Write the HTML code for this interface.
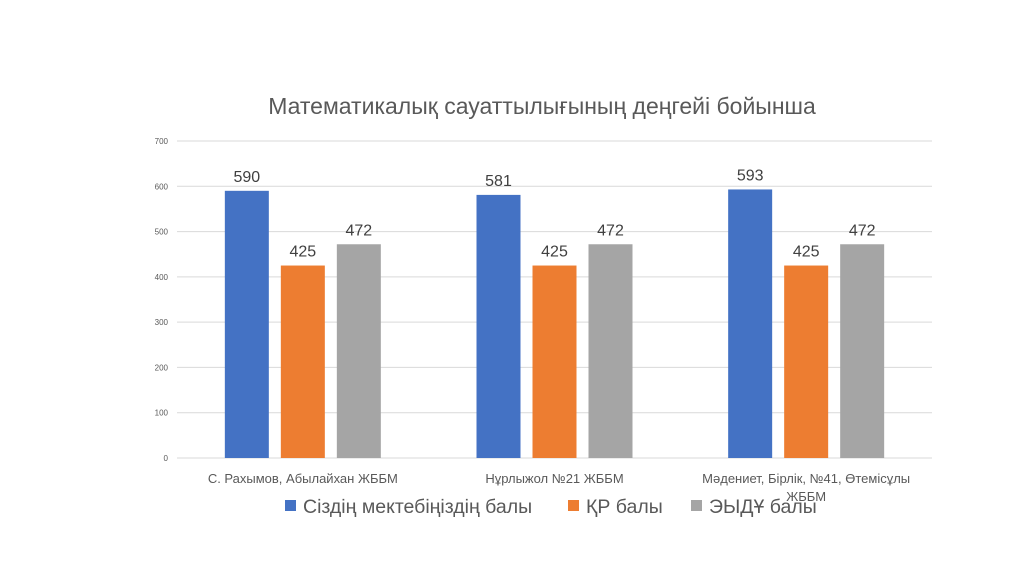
<!DOCTYPE html>
<html><head><meta charset="utf-8"><style>
body{margin:0;background:#fff;width:1024px;height:574px;overflow:hidden;font-family:"Liberation Sans","DejaVu Sans",sans-serif;}
svg text{font-family:"Liberation Sans","DejaVu Sans",sans-serif;}
</style></head><body>
<svg id="chart" width="1024" height="574" xmlns="http://www.w3.org/2000/svg">
<text x="542" y="114" text-anchor="middle" font-size="23" fill="#595959">Математикалық сауаттылығының деңгейі бойынша</text>
<g id="grid"></g><g id="bars"></g><g id="labels"></g>
<g font-size="19.5" fill="#595959">
<rect x="285" y="500" width="11" height="11" fill="#4472C4"/>
<text x="303" y="513">Сіздің мектебіңіздің балы</text>
<rect x="568" y="500" width="11" height="11" fill="#ED7D31"/>
<text x="586" y="513">ҚР балы</text>
<rect x="691" y="500" width="11" height="11" fill="#A5A5A5"/>
<text x="709" y="513">ЭЫДҰ балы</text>
</g>
</svg>
<script>
const categories=[["С. Рахымов, Абылайхан ЖББМ"],["Нұрлыжол №21 ЖББМ"],["Мәдениет, Бірлік, №41, Өтемісұлы","ЖББМ"]];
const schoolScores=[590,581,593];
const krScores=[425,425,425];
const oecdScores=[472,472,472];
const yTicks=[0,100,200,300,400,500,600,700];
const series=[{name:"school",vals:schoolScores,c:"#4472C4"},{name:"kr",vals:krScores,c:"#ED7D31"},{name:"oecd",vals:oecdScores,c:"#A5A5A5"}];
const NS="http://www.w3.org/2000/svg";
const x0=177,x1=932,y0=458,y1=141,ymax=700;
const y=v=>y0-(v/ymax)*(y0-y1);
const gw=(x1-x0)/categories.length;
function mk(t,a,p,txt){const e=document.createElementNS(NS,t);for(const k in a)e.setAttribute(k,a[k]);if(txt!==undefined)e.textContent=txt;p.appendChild(e);return e;}
const grid=document.getElementById('grid'),bars=document.getElementById('bars'),labels=document.getElementById('labels');
yTicks.forEach(t=>{
 const l=mk('line',{x1:x0,x2:x1,y1:y(t),y2:y(t),stroke:'#D9D9D9','stroke-width':1},grid);
 
 
 const tx=mk('text',{x:168,y:y(t)+3,'text-anchor':'end','font-size':8,fill:'#595959'},grid,t);
 
 
});
categories.forEach((cat,i)=>{
 const cx=x0+gw*(i+0.5);
 series.forEach((s,j)=>{
  const bx=cx+(j-1)*56-22;
  const r=mk('rect',{x:bx,y:y(s.vals[i]),width:44,height:y0-y(s.vals[i]),fill:s.c},bars);
  
  
  const t=mk('text',{x:bx+22,y:y(s.vals[i])-9,'text-anchor':'middle','font-size':16,fill:'#404040'},labels,s.vals[i]);
  
  
 });
 cat.forEach((line,k)=>{
  const t=mk('text',{x:cx,y:483+k*18,'text-anchor':'middle','font-size':13,fill:'#595959'},labels,line);
  
  
 });
});
</script>
</body></html>
